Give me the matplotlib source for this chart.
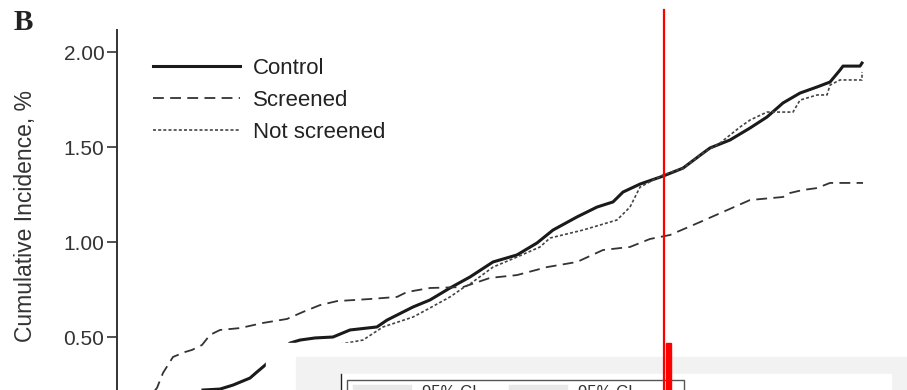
import matplotlib.pyplot as plt
from matplotlib.patches import Rectangle
from matplotlib.lines import Line2D

plt.rcParams['font.family'] = ['Liberation Sans', 'DejaVu Sans']

# follow-up time (years) and cumulative incidence (%)
control_t = [1.72, 2.06, 2.32, 2.66, 2.80, 2.94, 3.46, 3.66, 3.96, 4.32, 4.66, 5.20, 5.40,
             5.92, 6.26, 6.66, 7.06, 7.52, 8.00, 8.40, 8.72, 9.20, 9.60, 9.92, 10.12, 10.46,
             10.92, 11.32, 11.72, 11.86, 12.26, 12.66, 13.00, 13.32, 13.66, 14.00, 14.26,
             14.46, 14.52, 14.86, 14.90]
control_y = [0.221, 0.226, 0.247, 0.284, 0.316, 0.347, 0.468, 0.484, 0.495, 0.500, 0.537,
             0.553, 0.589, 0.658, 0.695, 0.758, 0.816, 0.895, 0.932, 0.995, 1.063, 1.132,
             1.184, 1.211, 1.263, 1.305, 1.347, 1.389, 1.468, 1.495, 1.537, 1.600, 1.658,
             1.732, 1.784, 1.816, 1.842, 1.905, 1.926, 1.926, 1.942]

screened_t = [0.60, 0.80, 0.92, 1.12, 1.36, 1.50, 1.70, 1.86, 2.06, 2.46, 2.92, 3.40, 3.72,
              4.06, 4.40, 5.06, 5.60, 5.80, 6.26, 6.92, 7.46, 8.00, 8.60, 9.20, 9.72, 10.26,
              10.66, 11.06, 11.66, 12.66, 13.32, 13.46, 13.72, 14.00, 14.26, 14.92]
screened_y = [0.168, 0.232, 0.311, 0.395, 0.421, 0.432, 0.458, 0.511, 0.537, 0.547, 0.574,
              0.595, 0.632, 0.668, 0.689, 0.700, 0.711, 0.737, 0.758, 0.763, 0.811, 0.826,
              0.868, 0.895, 0.958, 0.974, 1.016, 1.037, 1.105, 1.221, 1.237, 1.258, 1.274,
              1.284, 1.311, 1.311]

notscr_t = [4.26, 4.92, 5.32, 5.92, 6.26, 6.66, 6.92, 7.06, 7.52, 8.00, 8.46, 8.66, 9.32,
            10.00, 10.26, 10.46, 10.80, 10.92, 11.32, 11.72, 12.06, 12.46, 12.66, 13.00,
            13.52, 13.66, 14.00, 14.20, 14.26, 14.46, 14.90, 14.90]
notscr_y = [0.453, 0.484, 0.553, 0.605, 0.653, 0.711, 0.758, 0.779, 0.868, 0.921, 0.974,
            1.021, 1.063, 1.116, 1.184, 1.289, 1.337, 1.353, 1.389, 1.468, 1.521, 1.605,
            1.642, 1.684, 1.684, 1.747, 1.774, 1.774, 1.826, 1.853, 1.853, 1.895]

yticks = [0.5, 1.0, 1.5, 2.0]
ytick_labels = ['0.50', '1.00', '1.50', '2.00']

W, H = 907, 390


def fx(px):
    return px / W


def fy(py):
    return 1 - py / H


fig = plt.figure(figsize=(9.07, 3.90), dpi=100)
# axes run below the bottom edge of the picture (the x axis is cut off)
ax = fig.add_axes([fx(117), fy(432), fx(907) - fx(117), fy(30) - fy(432)])
ax.set_xlim(0, 15.8)
ax.set_ylim(0, 2.116)

ax.plot(control_t, control_y, color='#1a1a1a', lw=2.2, label='Control')
ax.plot(screened_t, screened_y, color='#333333', lw=1.3, ls=(0, (6, 3.5)), label='Screened')
ax.plot(notscr_t, notscr_y, color='#444444', lw=1.2, ls=(0, (1.8, 1.3)), label='Not screened')

for s in ['top', 'right', 'bottom']:
    ax.spines[s].set_visible(False)
ax.spines['left'].set_color('#333333')
ax.spines['left'].set_linewidth(1.4)
ax.set_xticks([])
ax.set_yticks(yticks)
ax.set_yticklabels(ytick_labels)
ax.tick_params(axis='y', length=7, width=1.2, pad=2, colors='#333333',
               labelsize=15, labelcolor='#333333')

leg = ax.legend(loc='upper left', bbox_to_anchor=(fx(133), fy(38)),
                bbox_transform=fig.transFigure, frameon=False, fontsize=16,
                handlelength=3.9, handletextpad=0.6, labelspacing=0.5)
for t in leg.get_texts():
    t.set_color('#222222')

fig.text(fx(26), fy(216), 'Cumulative Incidence, %', rotation=90, ha='center',
         va='center', fontsize=16.5, color='#333333')
fig.text(fx(14), fy(9), 'B', fontsize=21, fontweight='bold', va='top', ha='left',
         family='Liberation Serif', color='#222222')

# popup overlay at the bottom of the screenshot
fig.add_artist(Rectangle((fx(266), 0), fx(907) - fx(266), fy(343), color='white', zorder=5))
fig.add_artist(Rectangle((fx(296), 0), fx(907) - fx(296), fy(357), color='#f2f2f2', zorder=6))
fig.add_artist(Rectangle((fx(341), 0), fx(891) - fx(341), fy(374), color='white', zorder=7))
fig.add_artist(Line2D([fx(341), fx(341)], [0, fy(374)], color='#222222', lw=1, zorder=8))
fig.add_artist(Rectangle((fx(347), -0.05), fx(684) - fx(347), fy(380) + 0.05,
                         facecolor='white', edgecolor='#555555', lw=1, zorder=8))
for sx, tx in [(353, 422), (509, 578)]:
    fig.add_artist(Rectangle((fx(sx), 0), fx(sx + 58) - fx(sx), fy(385), color='#e8e8e8', zorder=9))
    fig.text(fx(tx), fy(385), '95% CI', fontsize=12, va='top', ha='left', color='#333333', zorder=9)

# red cursor line
fig.add_artist(Line2D([fx(663.5), fx(663.5)], [0, fy(10)], color='red', lw=1.6, zorder=10))
fig.add_artist(Rectangle((fx(666), 0), fx(670.5) - fx(666), fy(343), color='red', zorder=10))

fig.savefig('out.png', dpi=100)
